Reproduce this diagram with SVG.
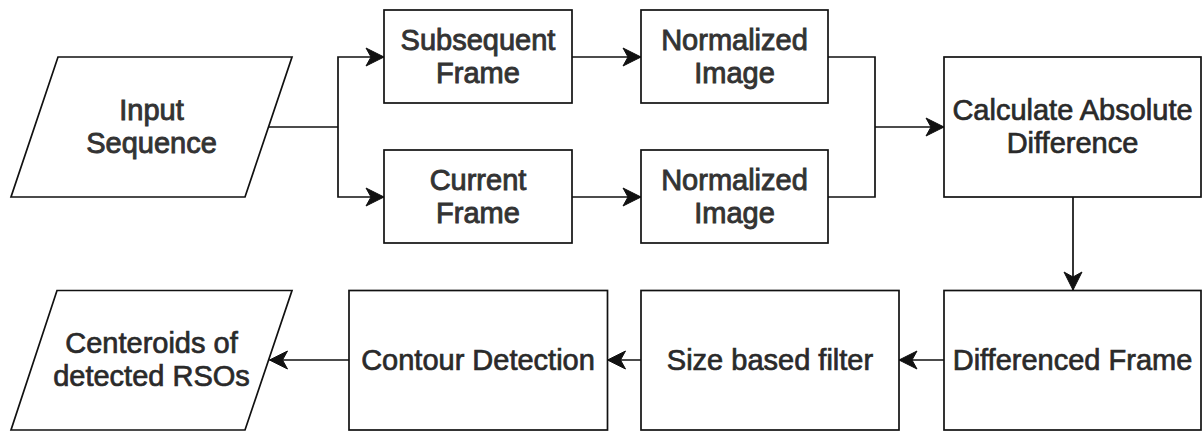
<svg xmlns="http://www.w3.org/2000/svg" width="1202" height="431" viewBox="0 0 1202 431">
  <defs>
    <style>
      .shape { fill: #ffffff; stroke: #111111; stroke-width: 1.7; }
      .edge { fill: none; stroke: #111111; stroke-width: 1.7; }
      .label { font-family: "Liberation Sans", Arial, sans-serif; font-size: 29px; fill: #2a2a2a; stroke: #2a2a2a; stroke-width: 0.7; text-anchor: middle; }
      .heavy { fill: #333333; stroke: #333333; stroke-width: 0.9; }
    </style>
    <marker id="arrow" viewBox="-20 -10 21 20" refX="0" refY="0" markerWidth="21" markerHeight="20" markerUnits="userSpaceOnUse" orient="auto">
      <path d="M0,0 L-18,-9 L-13,0 L-18,9 Z" fill="#111111" stroke="#111111" stroke-width="1" stroke-linejoin="miter"/>
    </marker>
  </defs>
  <rect width="1202" height="431" fill="#ffffff"/>

  <!-- connectors -->
  <g id="connectors">
    <polyline class="edge" points="268.5,127 338,127"/>
    <polyline class="edge" points="338,127 338,57 384,57" marker-end="url(#arrow)"/>
    <polyline class="edge" points="338,127 338,197 384,197" marker-end="url(#arrow)"/>
    <line class="edge" x1="572" y1="57" x2="641" y2="57" marker-end="url(#arrow)"/>
    <line class="edge" x1="572" y1="197" x2="641" y2="197" marker-end="url(#arrow)"/>
    <polyline class="edge" points="828,57 875,57 875,197 828,197"/>
    <line class="edge" x1="875" y1="127" x2="944" y2="127" marker-end="url(#arrow)"/>
    <line class="edge" x1="1073" y1="197" x2="1073" y2="290" marker-end="url(#arrow)"/>
    <line class="edge" x1="944" y1="360" x2="899" y2="360" marker-end="url(#arrow)"/>
    <line class="edge" x1="641" y1="360" x2="607.5" y2="360" marker-end="url(#arrow)"/>
    <line class="edge" x1="349" y1="360" x2="269.5" y2="360" marker-end="url(#arrow)"/>
  </g>

  <g id="input-sequence">
    <polygon class="shape" points="58,57 292,57 245,197 11,197"/>
    <text class="label heavy" x="151.5" y="120">Input</text>
    <text class="label heavy" x="151.5" y="153">Sequence</text>
  </g>

  <g id="subsequent-frame">
    <rect class="shape" x="384" y="10" width="188" height="93"/>
    <text class="label heavy" x="478" y="50">Subsequent</text>
    <text class="label heavy" x="478" y="83">Frame</text>
  </g>

  <g id="current-frame">
    <rect class="shape" x="384" y="150" width="188" height="93"/>
    <text class="label heavy" x="478" y="190">Current</text>
    <text class="label heavy" x="478" y="223">Frame</text>
  </g>

  <g id="normalized-image-top">
    <rect class="shape" x="641" y="10" width="187" height="93"/>
    <text class="label heavy" x="734.5" y="50">Normalized</text>
    <text class="label heavy" x="734.5" y="83">Image</text>
  </g>

  <g id="normalized-image-bottom">
    <rect class="shape" x="641" y="150" width="187" height="93"/>
    <text class="label heavy" x="734.5" y="190">Normalized</text>
    <text class="label heavy" x="734.5" y="223">Image</text>
  </g>

  <g id="absolute-difference">
    <rect class="shape" x="944" y="57" width="257" height="140"/>
    <text class="label" x="1072.5" y="120">Calculate Absolute</text>
    <text class="label" x="1072.5" y="153">Difference</text>
  </g>

  <g id="differenced-frame">
    <rect class="shape" x="944" y="290.5" width="257" height="139.5"/>
    <text class="label" x="1072.5" y="370">Differenced Frame</text>
  </g>

  <g id="size-filter">
    <rect class="shape" x="641" y="290.5" width="258" height="139.5"/>
    <text class="label" x="770" y="370">Size based filter</text>
  </g>

  <g id="contour-detection">
    <rect class="shape" x="349" y="290.5" width="258.5" height="139.5"/>
    <text class="label" x="478" y="370">Contour Detection</text>
  </g>

  <g id="centroids">
    <polygon class="shape" points="57,290.5 292,290.5 245,430 11,430"/>
    <text class="label" x="151.5" y="353">Centeroids of</text>
    <text class="label" x="151.5" y="386">detected RSOs</text>
  </g>
</svg>
